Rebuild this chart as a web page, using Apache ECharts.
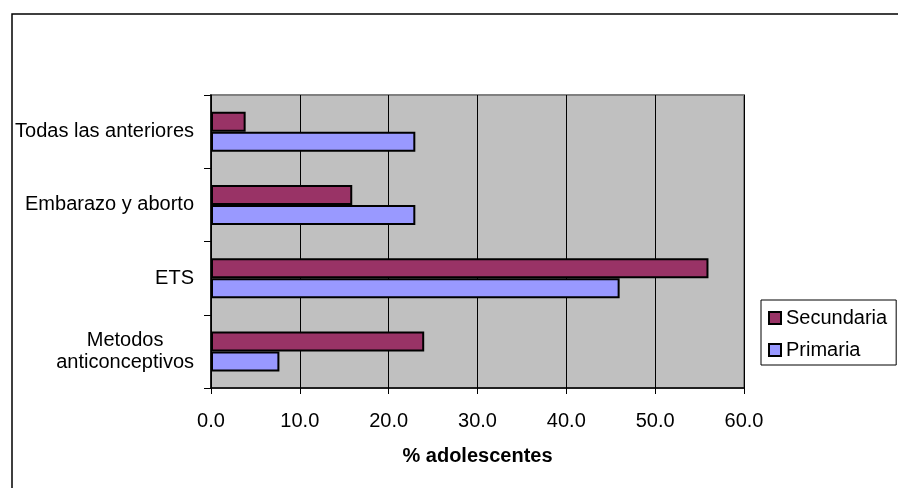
<!DOCTYPE html>
<html>
<head>
<meta charset="utf-8">
<script src="https://cdn.jsdelivr.net/npm/echarts@6/dist/echarts.min.js"></script>
<style>html,body{margin:0;padding:0;background:#fff;}#c{width:898px;height:488px;}</style>
</head>
<body>
<div id="c"></div>
<script>
var categories = ['Metodos\nanticonceptivos', 'ETS', 'Embarazo y aborto', 'Todas las anteriores'];
var secundaria = [24.0, 56.0, 15.9, 3.9];
var primaria = [7.7, 46.0, 23.0, 23.0];
var xTicks = { min: 0, max: 60, interval: 10 };
var seriesNames = ['Secundaria', 'Primaria'];
var axisTitle = '% adolescentes';

var FONT = '"Liberation Sans", Arial, sans-serif';
var FS = 20;
var chart = echarts.init(document.getElementById('c'), null, { renderer: 'canvas' });
chart.setOption({
  animation: false,
  backgroundColor: '#fff',
  graphic: [{
    type: 'rect', silent: true, z: 100,
    shape: { x: 12, y: 14, width: 1000, height: 1000 },
    style: { fill: 'none', stroke: '#000', lineWidth: 1.5 }
  }],
  grid: {
    left: 211, right: 154, top: 95, bottom: 100,
    show: true, backgroundColor: '#c0c0c0', borderColor: '#808080', borderWidth: 2
  },
  legend: {
    orient: 'vertical', left: 761, top: 300,
    padding: [8, 9, 5, 7], itemGap: 12, itemWidth: 12, itemHeight: 12,
    borderColor: '#000', borderWidth: 1, backgroundColor: '#fff',
    icon: 'rect',
    data: seriesNames,
    textStyle: { fontFamily: FONT, fontSize: FS, color: '#000', lineHeight: 20 }
  },
  xAxis: {
    type: 'value', min: xTicks.min, max: xTicks.max, interval: xTicks.interval,
    name: axisTitle, nameLocation: 'middle', nameGap: 58,
    nameTextStyle: { fontFamily: FONT, fontSize: FS, fontWeight: 'bold', color: '#000' },
    axisLine: { show: true, lineStyle: { color: '#000', width: 1.5 } },
    axisTick: { show: true, length: 6, lineStyle: { color: '#000', width: 1 } },
    axisLabel: { fontFamily: FONT, fontSize: FS, color: '#000', margin: 23,
      formatter: function (v) { return v.toFixed(1); } },
    splitLine: { show: true, lineStyle: { color: '#000', width: 1 } }
  },
  yAxis: {
    type: 'category', data: categories,
    axisLine: { show: true, lineStyle: { color: '#000', width: 1.5 } },
    axisTick: { show: true, length: 7, lineStyle: { color: '#000', width: 1 } },
    axisLabel: {
      fontFamily: FONT, fontSize: FS, color: '#000', margin: 17, lineHeight: 22,
      formatter: function (v) { return v.split('\n').map(function (l) { return '{c|' + l + '}'; }).join('\n'); },
      rich: { c: { align: 'center', fontFamily: FONT, fontSize: FS, lineHeight: 22, color: '#000' } }
    },
    splitLine: { show: false }
  },
  series: [
    { name: seriesNames[0], type: 'bar', data: secundaria, barWidth: 20, barGap: '0%',
      itemStyle: { color: '#993366', borderColor: '#000', borderWidth: 2 } },
    { name: seriesNames[1], type: 'bar', data: primaria, barWidth: 20, barGap: '0%',
      itemStyle: { color: '#9999ff', borderColor: '#000', borderWidth: 2 } }
  ]
});
</script>
</body>
</html>
